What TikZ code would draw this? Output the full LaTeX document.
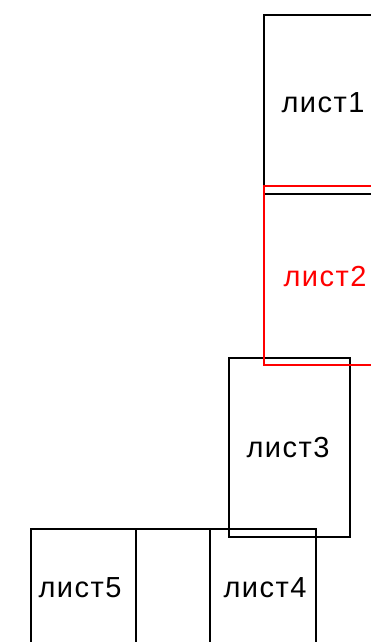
\documentclass[tikz,border=0pt]{standalone}
\usepackage{fontspec}
\setmainfont{Liberation Sans}
\usetikzlibrary{positioning}
\definecolor{marked}{rgb}{1,0,0}

\begin{document}
\begin{tikzpicture}[
  x=1pt, y=-1pt,
  sheet/.style = {line width=1.3pt, color=black},
  active/.style = {line width=1.3pt, color=marked},
  sheetname/.style = {font=\fontsize{29}{29}\selectfont\addfontfeature{LetterSpace=5}, inner sep=0pt},
]

  \useasboundingbox (0,0) rectangle (371,642);
  \clip (0,0) rectangle (371,642);

  \coordinate (s1a) at (264,15);
  \coordinate (s1b) at (390,194);

  \coordinate (s2a) at (264,186);
  \coordinate (s2b) at (390,365);

  \coordinate (s3a) at (229,358);
  \coordinate (s3b) at (350,537);

  \coordinate (s4a) at (136,529);
  \coordinate (s4b) at (316,660);

  \coordinate (s5a) at (31,529);
  \coordinate (s5b) at (210,660);

  \draw[sheet] (s1a) rectangle (s1b);
  \draw[sheet] (s5a) rectangle (s5b);
  \draw[sheet] (s4a) rectangle (s4b);
  \draw[sheet] (s3a) rectangle (s3b);
  \draw[active] (s2a) rectangle (s2b);

  \node[sheetname] (t1) at (323,103) {лист1};
  \node[sheetname, color=marked] (t2) at (325,277) {лист2};
  \node[sheetname] (t3) at (288,448) {лист3};
  \node[sheetname] (t5) at (80,588) {лист5};
  \node[sheetname] (t4) at (265,588) {лист4};

\end{tikzpicture}
\end{document}
